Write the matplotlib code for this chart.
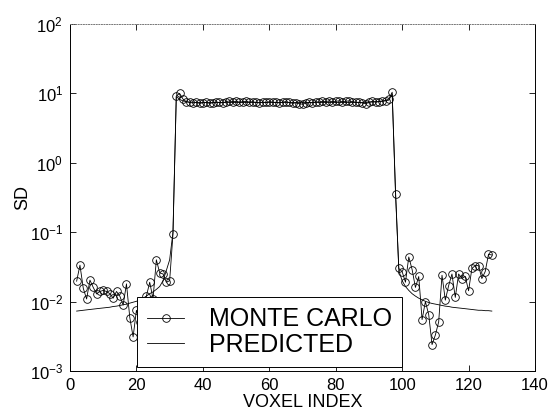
import numpy as np
import matplotlib
matplotlib.use("Agg")
import matplotlib.pyplot as plt

plt.rcParams['font.family'] = ['Liberation Sans', 'DejaVu Sans']
plt.rcParams['mathtext.default'] = 'regular'

voxel = np.arange(2, 128)

mc_left = [0.0197, 0.0335, 0.0155, 0.0109, 0.0204, 0.016, 0.0129, 0.014, 0.0145, 0.014,
           0.013, 0.0112, 0.014, 0.012, 0.0089, 0.018, 0.0059, 0.0031, 0.0075, 0.005,
           0.008, 0.012, 0.019, 0.011, 0.040, 0.026, 0.025, 0.019, 0.020, 0.093,
           9.2, 10.0]
mc_plateau = [8.3, 7.6, 7.4, 7.3, 7.4, 7.2, 7.3, 7.4, 7.2, 7.3, 7.5,
              7.4, 7.3, 7.6, 7.8, 7.6, 7.7, 7.5, 7.6, 7.7, 7.5, 7.6,
              7.4, 7.3, 7.5, 7.4, 7.6, 7.5, 7.4, 7.3, 7.5, 7.6,
              7.4, 7.2, 7.3, 7.1, 7.0, 7.2, 7.4, 7.3, 7.6, 7.5,
              7.7, 7.6, 7.8, 7.6, 7.7, 7.8, 7.6, 7.7, 7.8, 7.6,
              7.5, 7.4, 7.3, 7.1, 7.4, 7.7, 7.5, 7.6, 7.8, 7.9]
mc_right = [8.3, 10.4, 0.36, 0.03,
            0.027, 0.019, 0.044, 0.029, 0.016, 0.023, 0.0055, 0.010, 0.0065, 0.0024,
            0.0033, 0.0051, 0.024, 0.0105, 0.017, 0.025, 0.0115, 0.025, 0.0215, 0.023,
            0.0143, 0.030, 0.033, 0.033, 0.0215, 0.027, 0.048, 0.047]

pred_left = [0.0073, 0.0074, 0.0075, 0.0076, 0.0077, 0.0078, 0.0079, 0.0080, 0.0081, 0.0082,
             0.0083, 0.0085, 0.0086, 0.0088, 0.0090, 0.0092, 0.0095, 0.0098, 0.0101, 0.0106,
             0.0112, 0.0120, 0.0130, 0.0138, 0.0150, 0.0165, 0.0200, 0.0280, 0.0400, 0.1000]
pred_plateau = [9.0, 8.2, 7.8, 7.6, 7.5, 7.5, 7.4, 7.4, 7.4, 7.4, 7.4,
                7.4, 7.4, 7.4, 7.4, 7.4, 7.4, 7.4, 7.4, 7.4, 7.4, 7.4,
                7.4, 7.4, 7.4, 7.4, 7.4, 7.4, 7.4, 7.4, 7.4, 7.4, 7.4,
                7.4, 7.4, 7.4, 7.4, 7.4, 7.4, 7.4, 7.4, 7.4, 7.4, 7.4,
                7.4, 7.4, 7.4, 7.4, 7.4, 7.4, 7.4, 7.4, 7.4, 7.4, 7.4,
                7.4, 7.4, 7.4, 7.5, 7.5, 7.6, 7.6, 7.7, 7.8, 8.0, 9.8]
pred_right = [0.40, 0.028, 0.020, 0.0165, 0.0145, 0.0130, 0.0120, 0.0112, 0.0106, 0.0101,
              0.0097, 0.0094, 0.0092, 0.0090, 0.0088, 0.0086, 0.0085, 0.0083, 0.0082, 0.0081,
              0.0080, 0.0079, 0.0078, 0.0077, 0.0076, 0.0075, 0.0075, 0.0074, 0.0074, 0.0073]

monte_carlo = np.array(mc_left + mc_plateau + mc_right)
predicted = np.array(pred_left + pred_plateau + pred_right)

xticks = [0, 20, 40, 60, 80, 100, 120, 140]
yticks = [1e-3, 1e-2, 1e-1, 1e0, 1e1, 1e2]

fig = plt.figure(figsize=(5.53, 4.13), dpi=100)
ax = fig.add_axes([70/553, 42/413, 465/553, 347/413])

ax.plot(voxel, monte_carlo, color='black', lw=0.6, marker='o', ms=5.5,
        mfc='none', mec='black', mew=0.6, label='MONTE CARLO')
ax.plot(voxel, predicted, color='black', lw=0.6, label='PREDICTED')

ax.set_yscale('log')
ax.set_xlim(0, 140)
ax.set_ylim(1e-3, 1e2)
ax.set_xticks(xticks)
ax.set_yticks(yticks)
ax.minorticks_off()
ax.tick_params(direction='in', top=True, right=True, length=4, width=0.6,
               labelsize=12, pad=5, colors='black')
for s in ax.spines.values():
    s.set_linewidth(0.7)
ax.spines['top'].set_linestyle(':')
ax.spines['top'].set_color('#777777')

ax.set_xlabel('VOXEL INDEX', fontsize=13, labelpad=1)
ax.set_ylabel('SD', fontsize=13, labelpad=-1)

leg = ax.legend(loc='lower left', bbox_to_anchor=(0.144, 0.0115, 0.570, 0.21),
                mode='expand', borderaxespad=0, fontsize=18, frameon=True,
                fancybox=False, framealpha=1, edgecolor='black',
                handlelength=1.45, handletextpad=1.0, labelspacing=0.05,
                borderpad=0.42, markerscale=1.0)
leg.get_frame().set_linewidth(0.7)
leg.set_zorder(10)

fig.savefig('out.png', dpi=100)
